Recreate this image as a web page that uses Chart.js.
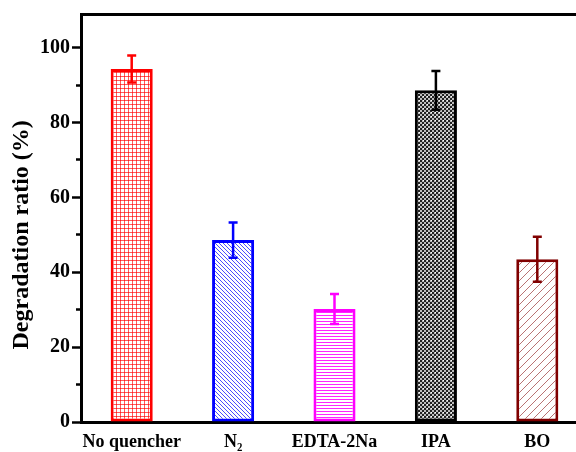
<!DOCTYPE html>
<html lang="en">

<head>
    <meta charset="UTF-8">
    <title>Degradation ratio - quenchers</title>
    <script src="https://cdn.jsdelivr.net/npm/chart.js"></script>
    <style>
        body { margin: 0; background: #fff; }
        .frame { width: 576px; height: 452px; overflow: hidden; position: relative; }
        #ratio_chart { position: absolute; left: 0; top: 0; }
    </style>
</head>

<body>
    <div class="frame">
        <canvas id="ratio_chart" width="600" height="470"></canvas>
    </div>
    <script>
        // values
        const categories = ['No quencher', 'N₂', 'EDTA-2Na', 'IPA', 'BO'];
        const ratios = [94.3, 48.6, 30.2, 88.6, 43.5];
        const errors = [3.6, 4.7, 4.0, 5.2, 6.0];
        const yTicks = [0, 10, 20, 30, 40, 50, 60, 70, 80, 90, 100];

        const colors = ['#ff0000', '#0000ff', '#ff00ff', '#000000', '#800000'];
        const hatches = ['grid', 'back', 'horiz', 'checker', 'fwd'];

        const fontFamily = '"Liberation Serif", "Times New Roman", serif';

        // hatch fills, built on a small tile
        function makePattern(kind, color) {
            const c = document.createElement('canvas');
            const g = c.getContext('2d');
            let s = 4;
            if (kind === 'horiz') s = 3;
            if (kind === 'fwd') s = 8;
            c.width = s;
            c.height = s;
            g.fillStyle = '#fff';
            g.fillRect(0, 0, s, s);
            g.strokeStyle = color;
            g.fillStyle = color;
            g.lineWidth = 1;
            if (kind === 'grid') {
                g.globalAlpha = 0.65;
                g.fillRect(0, 0, s, 1);
                g.fillRect(0, 0, 1, s);
            } else if (kind === 'horiz') {
                g.globalAlpha = 0.85;
                g.fillRect(0, 0, s, 1);
            } else if (kind === 'checker') {
                g.fillStyle = '#bdbdbd';
                g.fillRect(0, 0, s, s);
                g.fillStyle = '#222';
                g.fillRect(0, 0, 2, 2);
                g.fillRect(2, 2, 2, 2);
                g.fillStyle = '#fff';
                g.fillRect(3, 0, 1, 1);
            } else if (kind === 'back') {
                g.globalAlpha = 0.7;
                g.beginPath();
                g.moveTo(-1, -1); g.lineTo(s + 1, s + 1);
                g.moveTo(-1, s - 1); g.lineTo(1, s + 1);
                g.moveTo(s - 1, -1); g.lineTo(s + 1, 1);
                g.stroke();
            } else if (kind === 'fwd') {
                g.globalAlpha = 0.55;
                g.beginPath();
                g.moveTo(-1, s + 1); g.lineTo(s + 1, -1);
                g.moveTo(-1, 1); g.lineTo(1, -1);
                g.moveTo(s - 1, s + 1); g.lineTo(s + 1, s - 1);
                g.stroke();
            }
            return g.createPattern(c, 'repeat');
        }

        // error bars, placed with the chart's own scales
        const errorBars = {
            id: 'errorBars',
            afterDatasetsDraw(chart) {
                const meta = chart.getDatasetMeta(0);
                const yScale = chart.scales.y;
                const ctx = chart.ctx;
                ctx.save();
                meta.data.forEach((bar, i) => {
                    const top = yScale.getPixelForValue(ratios[i] + errors[i]);
                    const bottom = yScale.getPixelForValue(ratios[i] - errors[i]);
                    ctx.strokeStyle = colors[i];
                    ctx.lineWidth = 2.5;
                    ctx.beginPath();
                    ctx.moveTo(bar.x, top);
                    ctx.lineTo(bar.x, bottom);
                    ctx.moveTo(bar.x - 4.5, top);
                    ctx.lineTo(bar.x + 4.5, top);
                    ctx.moveTo(bar.x - 4.5, bottom);
                    ctx.lineTo(bar.x + 4.5, bottom);
                    ctx.stroke();
                });
                ctx.restore();
            }
        };

        // rotated y title, sits a bit below the middle of the axis in the original
        const yTitle = {
            id: 'yTitle',
            afterDraw(chart) {
                const ctx = chart.ctx;
                const y = chart.scales.y.getPixelForValue(50);
                ctx.save();
                ctx.translate(22, y);
                ctx.rotate(-Math.PI / 2);
                ctx.font = 'bold 24px ' + fontFamily;
                ctx.fillStyle = '#000';
                ctx.textAlign = 'center';
                ctx.textBaseline = 'middle';
                ctx.fillText('Degradation ratio (%)', 0, 0);
                ctx.restore();
            }
        };

        const ctx = document.getElementById('ratio_chart').getContext('2d');
        const chart = new Chart(ctx, {
            type: 'bar',
            data: {
                labels: categories,
                datasets: [{
                    data: ratios,
                    backgroundColor: colors.map((c, i) => makePattern(hatches[i], c)),
                    borderColor: colors,
                    borderWidth: 3,
                    borderSkipped: false,
                    categoryPercentage: 1,
                    barPercentage: 0.415
                }]
            },
            options: {
                responsive: false,
                animation: false,
                layout: { padding: 0 },
                plugins: {
                    legend: { display: false },
                    tooltip: { enabled: false }
                },
                scales: {
                    x: {
                        position: 'bottom',
                        offset: true,
                        grid: { display: false, drawTicks: false },
                        border: { color: '#000', width: 3 },
                        ticks: {
                            color: '#000',
                            padding: 10,
                            maxRotation: 0,
                            autoSkip: false,
                            font: { family: fontFamily, size: 18, weight: 'bold' }
                        },
                        afterFit: scale => { scale.height = 48; }
                    },
                    xTop: {
                        type: 'category',
                        labels: categories,
                        position: 'top',
                        display: true,
                        grid: { display: false, drawTicks: false },
                        border: { color: '#000', width: 3 },
                        ticks: { display: false },
                        afterFit: scale => { scale.height = 14; }
                    },
                    y: {
                        min: 0,
                        max: 109,
                        afterBuildTicks: scale => {
                            scale.ticks = yTicks.map(v => ({ value: v }));
                        },
                        grid: {
                            display: true,
                            drawOnChartArea: false,
                            drawTicks: true,
                            tickLength: 9,
                            tickWidth: 2.5,
                            tickColor: '#000',
                            // minor ticks are shorter: skip their outer part
                            tickBorderDash: c => (c.tick && c.tick.value % 20 !== 0) ? [0, 4, 6, 20] : []
                        },
                        border: { color: '#000', width: 3 },
                        ticks: {
                            color: '#000',
                            padding: 2,
                            callback: v => (v % 20 === 0 ? v : ''),
                            font: { family: fontFamily, size: 20, weight: 'bold' }
                        },
                        afterFit: scale => { scale.width = 81; }
                    },
                    yRight: {
                        position: 'right',
                        display: true,
                        min: 0,
                        max: 109,
                        grid: { display: false, drawTicks: false },
                        border: { color: '#000', width: 3 },
                        ticks: { display: false },
                        afterFit: scale => { scale.width = 12; }
                    }
                }
            },
            plugins: [errorBars, yTitle]
        });
    </script>
</body>

</html>
